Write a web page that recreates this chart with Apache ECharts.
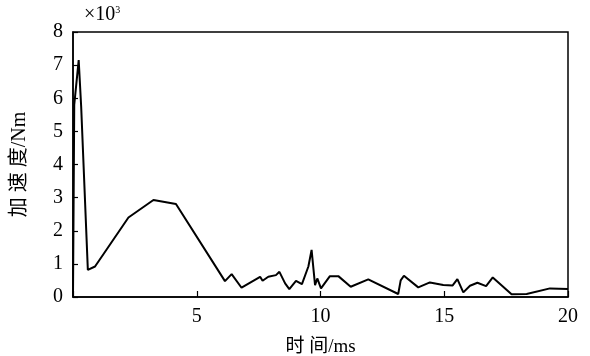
<!DOCTYPE html>
<html>
<head>
<meta charset="utf-8">
<script src="https://cdn.jsdelivr.net/npm/echarts@6/dist/echarts.min.js"></script>
<style>
html, body { margin: 0; padding: 0; background: #fff; }
#chart { width: 590px; height: 356px; }
</style>
</head>
<body>
<div id="chart"></div>
<script>
// 时间 (ms) 与加速度 (×10^3 Nm)
var timeMs = [0, 0.05, 0.23, 0.33, 0.6, 0.89, 2.24, 3.25, 4.16, 6.14, 6.41, 6.81, 7.56, 7.66, 7.89,
    8.2, 8.34, 8.57, 8.74, 9.01, 9.25, 9.51, 9.64, 9.78, 9.87, 10.02, 10.38, 10.72, 11.22, 11.93,
    13.14, 13.24, 13.37, 13.95, 14.42, 14.96, 15.34, 15.53, 15.77, 16.04, 16.34, 16.69, 16.96,
    17.72, 18.33, 19.27, 20];
var accel = [0, 5.8, 7.15, 5.75, 0.82, 0.92, 2.4, 2.93, 2.81, 0.48, 0.69, 0.28, 0.61, 0.49, 0.61,
    0.66, 0.76, 0.41, 0.24, 0.49, 0.39, 0.92, 1.42, 0.36, 0.56, 0.26, 0.63, 0.63, 0.31, 0.53,
    0.09, 0.5, 0.64, 0.29, 0.44, 0.36, 0.35, 0.54, 0.14, 0.34, 0.43, 0.33, 0.59,
    0.08, 0.09, 0.26, 0.24];
var xTicks = [0, 5, 10, 15, 20];
var yTicks = [0, 1, 2, 3, 4, 5, 6, 7, 8];

var serif = '"Liberation Serif", "Times New Roman", serif';
var cjk = '"Liberation Serif", "Noto Sans CJK SC", serif';

var chart = echarts.init(document.getElementById('chart'));

var option = {
    animation: false,
    grid: {
        left: 73, right: 22, top: 32, bottom: 59,
        outerBoundsMode: 'none',
        containLabel: false,
        show: true,
        borderColor: '#000',
        borderWidth: 1.5
    },
    xAxis: {
        type: 'value',
        min: xTicks[0], max: xTicks[xTicks.length - 1], interval: 5,
        name: '时 间/ms',
        nameLocation: 'middle',
        nameGap: 41,
        nameTextStyle: {fontFamily: cjk, fontSize: 19, color: '#000'},
        axisLine: {lineStyle: {color: '#000', width: 1.5}},
        axisTick: {inside: true, length: 6, lineStyle: {color: '#000', width: 1.2}},
        splitLine: {show: false},
        axisLabel: {
            fontFamily: serif, fontSize: 20, color: '#000', margin: 10,
            formatter: function (v) { return v === 0 ? '' : v; }
        }
    },
    yAxis: {
        type: 'value',
        min: yTicks[0], max: yTicks[yTicks.length - 1], interval: 1,
        name: '加 速 度/Nm',
        nameLocation: 'middle',
        nameGap: 43,
        nameTextStyle: {fontFamily: cjk, fontSize: 20, color: '#000'},
        axisLine: {show: true, lineStyle: {color: '#000', width: 1.5}},
        axisTick: {show: true, inside: true, length: 5, lineStyle: {color: '#000', width: 1.2}},
        splitLine: {show: false},
        axisLabel: {fontFamily: serif, fontSize: 20, color: '#000', margin: 10}
    },
    graphic: [{
        type: 'text',
        left: 84, top: 5,
        style: {
            text: '{m|×10}{s|3}',
            fill: '#000',
            rich: {
                m: {fontSize: 20, fontFamily: serif, color: '#000'},
                s: {fontSize: 10, fontFamily: serif, color: '#000', verticalAlign: 'top', padding: [0, 0, 10, 0]}
            }
        }
    }],
    series: [{
        type: 'line',
        data: timeMs.map(function (t, i) { return [t, accel[i]]; }),
        showSymbol: false,
        lineStyle: {color: '#000', width: 2}
    }]
};

chart.setOption(option);
</script>
</body>
</html>
